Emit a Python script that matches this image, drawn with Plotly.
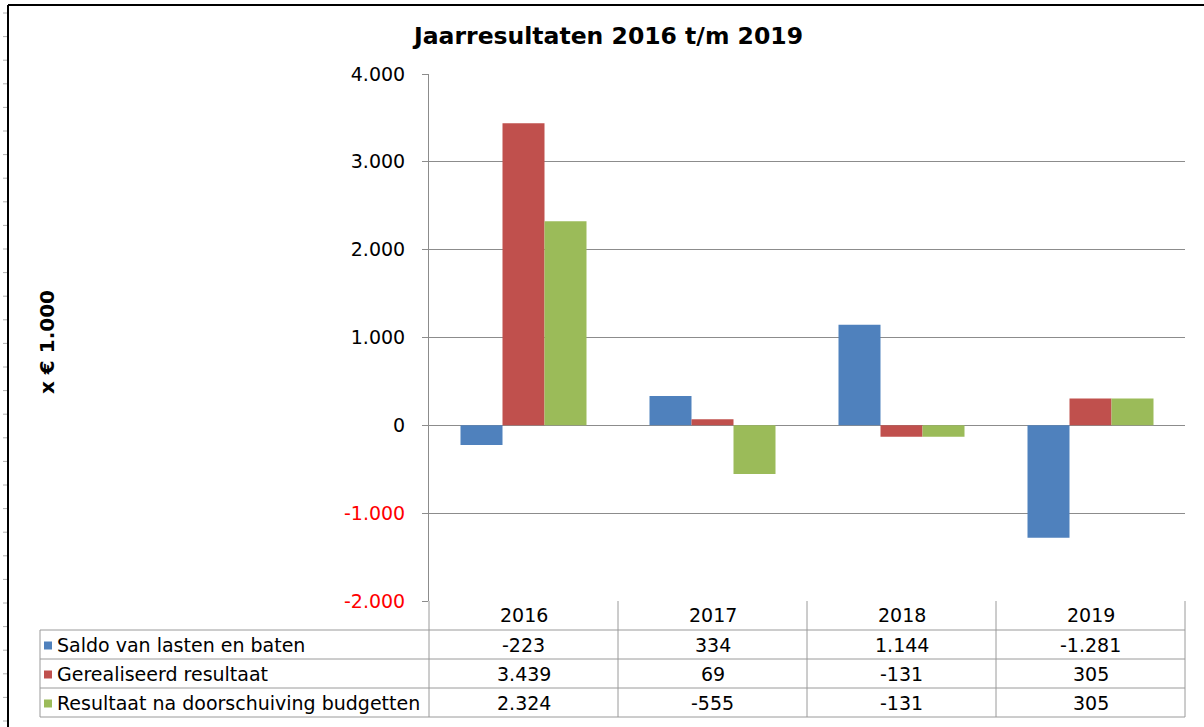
import plotly.graph_objects as go

# ---- data ----
years = ["2016", "2017", "2018", "2019"]
series_names = ["Saldo van lasten en baten", "Gerealiseerd resultaat",
                "Resultaat na doorschuiving budgetten"]
saldo = [-223, 334, 1144, -1281]
gerealiseerd = [3439, 69, -131, 305]
resultaat_na = [2324, -555, -131, 305]
series_values = [saldo, gerealiseerd, resultaat_na]
series_colors = ["#4F81BD", "#C0504D", "#9BBB59"]
y_ticks = [-2000, -1000, 0, 1000, 2000, 3000, 4000]

W, H = 1204, 727
L, R, T, B = 429, 19, 74, 126
PW, PH = W - L - R, H - T - B
FONT = "DejaVu Sans"
TBL_SIZE = 19


def px(x):
    return (x - L) / PW


def py(y):
    return (H - B - y) / PH


def fmt(v):
    return f"{v:,}".replace(",", ".")


fig = go.Figure()
for name, vals, col in zip(series_names, series_values, series_colors):
    fig.add_trace(go.Bar(x=years, y=vals, name=name, marker_color=col,
                         marker_line_width=0, showlegend=False))

ticktext = []
for t in y_ticks:
    s = fmt(t)
    if t < 0:
        s = f'<span style="color:#FF0000">{s}</span>'
    ticktext.append(s)

shapes = []
annotations = []
grid = "#8C8C8C"
tbl = "#9A9A9A"

# table geometry (pixels)
row_y = [601, 630, 659, 688, 717]
col_x = [L + i * PW / 4 for i in range(5)]
label_left = 40

# vertical lines of table
for cx in col_x:
    shapes.append(dict(type="line", xref="paper", yref="paper",
                       x0=px(cx), x1=px(cx), y0=py(601), y1=py(717),
                       line=dict(color=tbl, width=1)))
# label column left border
shapes.append(dict(type="line", xref="paper", yref="paper",
                   x0=px(label_left), x1=px(label_left), y0=py(630), y1=py(717),
                   line=dict(color=tbl, width=1)))
# horizontal lines
for ry in row_y[1:]:
    shapes.append(dict(type="line", xref="paper", yref="paper",
                       x0=px(label_left), x1=px(col_x[-1]), y0=py(ry), y1=py(ry),
                       line=dict(color=tbl, width=1)))

# header years
for i, yr in enumerate(years):
    annotations.append(dict(xref="paper", yref="paper",
                            x=px((col_x[i] + col_x[i + 1]) / 2), y=py(615),
                            text=yr, showarrow=False,
                            font=dict(family=FONT, size=TBL_SIZE, color="#000000"),
                            xanchor="center", yanchor="middle"))
# rows
for r, (name, vals, col) in enumerate(zip(series_names, series_values, series_colors)):
    cy = (row_y[r + 1] + row_y[r + 2]) / 2
    shapes.append(dict(type="rect", xref="paper", yref="paper",
                       x0=px(44), x1=px(52), y0=py(cy - 3), y1=py(cy + 5),
                       fillcolor=col, line=dict(width=0)))
    annotations.append(dict(xref="paper", yref="paper", x=px(55), y=py(cy),
                            text=name, showarrow=False,
                            font=dict(family=FONT, size=TBL_SIZE, color="#000000"),
                            xanchor="left", yanchor="middle"))
    for i, v in enumerate(vals):
        annotations.append(dict(xref="paper", yref="paper",
                                x=px((col_x[i] + col_x[i + 1]) / 2), y=py(cy),
                                text=fmt(v), showarrow=False,
                                font=dict(family=FONT, size=TBL_SIZE, color="#000000"),
                                xanchor="center", yanchor="middle"))

# outer frame (left and top)
shapes.append(dict(type="line", xref="paper", yref="paper",
                   x0=px(8), x1=px(8), y0=py(5), y1=py(727),
                   line=dict(color="#000000", width=2)))
shapes.append(dict(type="line", xref="paper", yref="paper",
                   x0=px(8), x1=px(1204), y0=py(5), y1=py(5),
                   line=dict(color="#000000", width=2)))
# small ruler marks left of frame
yy = 13.0
while yy < 727:
    shapes.append(dict(type="line", xref="paper", yref="paper",
                       x0=px(3), x1=px(7), y0=py(yy), y1=py(yy),
                       line=dict(color="#B0B0B0", width=1)))
    yy += 23.6

# title and axis title
annotations.append(dict(xref="paper", yref="paper", x=px(607), y=py(36),
                        text="<b>Jaarresultaten 2016 t/m 2019</b>", showarrow=False,
                        font=dict(family=FONT, size=23.5, color="#000000"),
                        xanchor="center", yanchor="middle"))
annotations.append(dict(xref="paper", yref="paper", x=px(47), y=py(342),
                        text="<b>x € 1.000</b>", showarrow=False, textangle=-90,
                        font=dict(family=FONT, size=20, color="#000000"),
                        xanchor="center", yanchor="middle"))

fig.update_layout(
    width=W, height=H,
    margin=dict(l=L, r=R, t=T, b=B, pad=0),
    paper_bgcolor="#FFFFFF", plot_bgcolor="#FFFFFF",
    barmode="group", bargap=1 / 3, bargroupgap=0,
    shapes=shapes, annotations=annotations,
    xaxis=dict(showticklabels=False, showgrid=False, zeroline=False,
               showline=False, ticks=""),
    yaxis=dict(range=[-2000, 4000], tickvals=y_ticks, ticktext=ticktext,
               showgrid=True, gridcolor=grid, gridwidth=1,
               zeroline=True, zerolinecolor=grid, zerolinewidth=1,
               showline=True, linecolor=grid, linewidth=1,
               ticks="outside", ticklen=6, tickcolor=grid,
               ticklabelstandoff=13,
               tickfont=dict(family=FONT, size=19, color="#000000")),
    font=dict(family=FONT),
)

fig.write_html("out.html", config={"displayModeBar": False},
               post_script="document.body.style.margin='0px';")
